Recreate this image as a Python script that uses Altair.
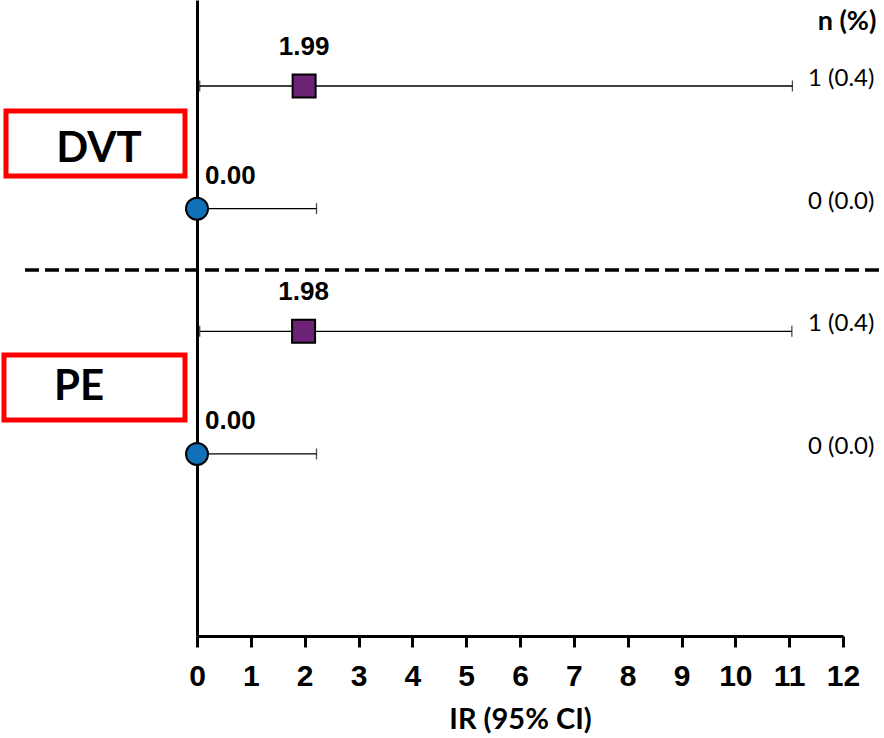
import altair as alt
import pandas as pd

# ---- data ----
rows = [1, 2, 3, 4]
outcome = ["DVT", "DVT", "PE", "PE"]
group = ["A", "B", "A", "B"]
ir = [1.99, 0.00, 1.98, 0.00]
ci_lo = [0.05, 0.00, 0.05, 0.00]
ci_hi = [11.06, 2.22, 11.05, 2.22]
ir_text = ["1.99", "0.00", "1.98", "0.00"]
n_text = ["1 (0.4)", "0 (0.0)", "1 (0.4)", "0 (0.0)"]
n_header = "n (%)"
section_labels = ["DVT", "PE"]
x_ticks = list(range(0, 13))
x_title = "IR (95% CI)"

# ---- layout (pixels) ----
W, H = 646, 636
PAD_L, PAD_T, PAD_R, PAD_B = 197, 0, 41, 102
n_label_dy = [12, -7, 2, -2]           # per-row vertical nudge of n (%) labels
box_px = [(-191, -12, 111, 176), (-193, -12, 355, 420)]   # x0, x1, y0, y1 relative to plot
box_text_px = [(99, 162), (79, 400)]   # center x (absolute), baseline y

df = pd.DataFrame({
    "row": rows, "outcome": outcome, "group": group, "ir": ir,
    "lo": ci_lo, "hi": ci_hi, "ir_text": ir_text, "n_text": n_text,
    "n_dy": n_label_dy,
})
df_box = pd.DataFrame({
    "label": section_labels,
    "x0": [b[0] for b in box_px], "x1": [b[1] for b in box_px],
    "y0": [b[2] for b in box_px], "y1": [b[3] for b in box_px],
    "tx": [t[0] - PAD_L for t in box_text_px], "ty": [t[1] for t in box_text_px],
})
one = pd.DataFrame({"k": [0]})

xs = alt.Scale(domain=[0, 12], nice=False, zero=False)
ys = alt.Scale(domain=[0.299, 5.484], reverse=True, nice=False, zero=False)

x_axis = alt.Axis(values=x_ticks, format="d", title=x_title, grid=False,
                  labelFont="Liberation Sans", labelFontWeight="bold", labelFontSize=30,
                  labelColor="black", labelPadding=14, labelFlush=False,
                  tickColor="black", tickWidth=3, tickSize=11,
                  domainColor="black", domainWidth=3,
                  titleFont="Lato", titleFontWeight="bold", titleFontSize=29,
                  titleColor="black", titlePadding=14)
y_axis = alt.Axis(title=None, labels=False, ticks=False, grid=False,
                  domainColor="black", domainWidth=3)

base = alt.Chart(df)

ci = base.mark_rule(color="black", strokeWidth=1.3).encode(
    x=alt.X("lo:Q", scale=xs, axis=x_axis),
    x2="hi:Q",
    y=alt.Y("row:Q", scale=ys, axis=y_axis),
)

caps = base.transform_fold(["lo", "hi"], as_=["end", "val"]).mark_tick(
    orient="vertical", color="black", size=11, thickness=1.3
).encode(
    x=alt.X("val:Q", scale=xs),
    y=alt.Y("row:Q", scale=ys),
)

points = base.mark_point(filled=True, opacity=1, stroke="black", strokeWidth=2).encode(
    x=alt.X("ir:Q", scale=xs),
    y=alt.Y("row:Q", scale=ys),
    shape=alt.Shape("group:N", scale=alt.Scale(domain=["A", "B"], range=["square", "circle"]), legend=None),
    color=alt.Color("group:N", scale=alt.Scale(domain=["A", "B"], range=["#6C2375", "#1071B8"]), legend=None),
    size=alt.Size("group:N", scale=alt.Scale(domain=["A", "B"], range=[529, 484]), legend=None),
)

lab_a = base.transform_filter(alt.datum.group == "A").mark_text(
    font="Liberation Sans", fontWeight="bold", fontSize=26, color="black",
    align="center", baseline="alphabetic", dy=-31
).encode(x=alt.X("ir:Q", scale=xs), y=alt.Y("row:Q", scale=ys), text="ir_text:N")

lab_b = base.transform_filter(alt.datum.group == "B").mark_text(
    font="Liberation Sans", fontWeight="bold", fontSize=26, color="black",
    align="left", baseline="alphabetic", dx=8, dy=-25
).encode(x=alt.X("ir:Q", scale=xs), y=alt.Y("row:Q", scale=ys), text="ir_text:N")

n_lab = base.mark_text(font="Lato", fontSize=24, color="black",
                       align="left", baseline="alphabetic").encode(
    x=alt.value(611),
    y=alt.Y("row:Q", scale=ys),
    yOffset=alt.YOffset("n_dy:Q", scale=None),
    text="n_text:N",
)

header = alt.Chart(one).mark_text(font="Lato", fontWeight="bold", fontSize=27, color="black",
                                  align="center", baseline="alphabetic").encode(
    x=alt.value(650), y=alt.value(30), text=alt.value(n_header))

dash = alt.Chart(one).mark_rule(color="black", strokeWidth=3.5, strokeDash=[14, 6]).encode(
    x=alt.value(25 - PAD_L), x2=alt.value(884 - PAD_L), y=alt.value(270))

boxes = alt.Chart(df_box).mark_rect(fillOpacity=0, stroke="#FF0000", strokeWidth=5).encode(
    x=alt.X("x0:Q", scale=None), x2="x1:Q",
    y=alt.Y("y0:Q", scale=None), y2="y1:Q",
)
box_txt = alt.Chart(df_box).mark_text(font="Lato", fontWeight="bold", fontSize=42, color="black",
                                      align="center", baseline="alphabetic").encode(
    x=alt.X("tx:Q", scale=None), y=alt.Y("ty:Q", scale=None), text="label:N")

chart = alt.layer(ci, caps, points, lab_a, lab_b, n_lab, header, dash, boxes, box_txt).properties(
    width=W, height=H,
    padding={"left": PAD_L, "top": PAD_T, "right": PAD_R, "bottom": PAD_B},
    autosize=alt.AutoSizeParams(type="none"),
    background="white",
).configure_view(stroke="transparent")

chart.save("out.html", embed_options={"renderer": "svg", "actions": False})
